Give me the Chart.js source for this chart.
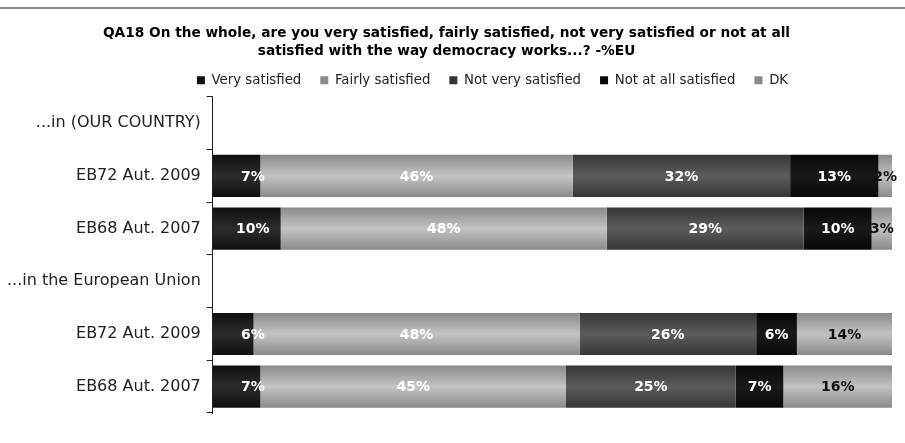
<!DOCTYPE html>
<html>
<head>
<meta charset="utf-8">
<title>Satisfaction with democracy</title>
<script src="https://cdn.jsdelivr.net/npm/chart.js@4.4.1/dist/chart.umd.min.js"></script>
<style>
    html, body { margin: 0; padding: 0; background: #fff; }
    canvas { display: block; }
</style>
</head>
<body>
<canvas id="myChart" width="905" height="443"></canvas>
<script>
var categories = ['...in (OUR COUNTRY)', 'EB72 Aut. 2009', 'EB68 Aut. 2007', '...in the European Union', 'EB72 Aut. 2009', 'EB68 Aut. 2007'];
var verySatisfied = [null, 7, 10, null, 6, 7];
var fairlySatisfied = [null, 46, 48, null, 48, 45];
var notVerySatisfied = [null, 32, 29, null, 26, 25];
var notAtAllSatisfied = [null, 13, 10, null, 6, 7];
var dontKnow = [null, 2, 3, null, 14, 16];
var titleLines = [
    'QA18 On the whole, are you very satisfied, fairly satisfied, not very satisfied or not at all',
    'satisfied with the way democracy works...? -%EU'
];

// darker at the top and bottom edge of each bar, lighter through the middle
function shade(edge, mid) {
    return function (c) {
        var y = c.chart.scales.y;
        if (c.type !== 'data' || !y) return mid;
        var cy = y.getPixelForValue(c.dataIndex);
        var half = (y.bottom - y.top) / categories.length * 0.8 / 2;
        if (!isFinite(cy) || !isFinite(half) || half <= 0) return mid;
        var g = c.chart.ctx.createLinearGradient(0, cy - half, 0, cy + half);
        g.addColorStop(0, edge);
        g.addColorStop(0.5, mid);
        g.addColorStop(1, edge);
        return g;
    };
}

// percentages written on each segment
var barLabels = {
    id: 'barLabels',
    afterDatasetsDraw: function (chart) {
        var ctx = chart.ctx;
        ctx.save();
        ctx.font = 'bold 14px "DejaVu Sans"';
        ctx.textAlign = 'center';
        ctx.textBaseline = 'middle';
        chart.data.datasets.forEach(function (ds, i) {
            chart.getDatasetMeta(i).data.forEach(function (bar, j) {
                var v = ds.data[j];
                if (v == null) return;
                var x = Math.max((bar.x + bar.base) / 2, chart.chartArea.left + 40);
                ctx.fillStyle = ds.labelColor;
                ctx.fillText(v + '%', x, bar.y + 1);
            });
        });
        ctx.restore();
    }
};

// grey rule across the top of the page
var topRule = {
    id: 'topRule',
    beforeDraw: function (chart) {
        var ctx = chart.ctx;
        ctx.save();
        ctx.strokeStyle = '#8c8c8c';
        ctx.lineWidth = 2;
        ctx.beginPath();
        ctx.moveTo(0, 8);
        ctx.lineTo(chart.width, 8);
        ctx.stroke();
        ctx.restore();
    }
};

// legend sits a little right of the page centre
var legendShift = {
    id: 'legendShift',
    afterLayout: function (chart) {
        chart.legend.left += 46;
        chart.legend.right += 46;
    }
};

var ctx = document.getElementById('myChart').getContext('2d');
var myChart = new Chart(ctx, {
    type: 'bar',
    data: {
        labels: categories,
        datasets: [
            { label: 'Very satisfied', data: verySatisfied, backgroundColor: shade('#101010', '#2c2c2c'), labelColor: '#fff' },
            { label: 'Fairly satisfied', data: fairlySatisfied, backgroundColor: shade('#8a8a8a', '#c4c4c4'), labelColor: '#fff' },
            { label: 'Not very satisfied', data: notVerySatisfied, backgroundColor: shade('#363636', '#5c5c5c'), labelColor: '#fff' },
            { label: 'Not at all satisfied', data: notAtAllSatisfied, backgroundColor: shade('#080808', '#1a1a1a'), labelColor: '#fff' },
            { label: 'DK', data: dontKnow, backgroundColor: shade('#8a8a8a', '#c2c2c2'), labelColor: '#111' }
        ]
    },
    options: {
        indexAxis: 'y',
        responsive: false,
        animation: false,
        devicePixelRatio: 1,
        barPercentage: 0.8,
        categoryPercentage: 1,
        layout: { padding: { left: 1, right: 13, bottom: 30 } },
        plugins: {
            title: {
                display: true,
                text: titleLines,
                color: '#000',
                font: { family: 'DejaVu Sans', size: 13.7, weight: 'bold', lineHeight: 1.3 },
                padding: { top: 25, bottom: -6 }
            },
            legend: {
                position: 'top',
                labels: {
                    boxWidth: 8,
                    boxHeight: 8,
                    padding: 19,
                    color: '#222',
                    font: { family: 'DejaVu Sans', size: 13.3 }
                }
            },
            tooltip: { enabled: false }
        },
        scales: {
            x: { stacked: true, min: 0, max: 100, display: false },
            y: {
                stacked: true,
                grid: { offset: true, drawOnChartArea: false, tickLength: 6, color: '#222', lineWidth: 1 },
                border: { display: true, color: '#222', width: 1 },
                ticks: { color: '#222', padding: 6, font: { family: 'DejaVu Sans', size: 16 } }
            }
        }
    },
    plugins: [barLabels, topRule, legendShift]
});
</script>
</body>
</html>
